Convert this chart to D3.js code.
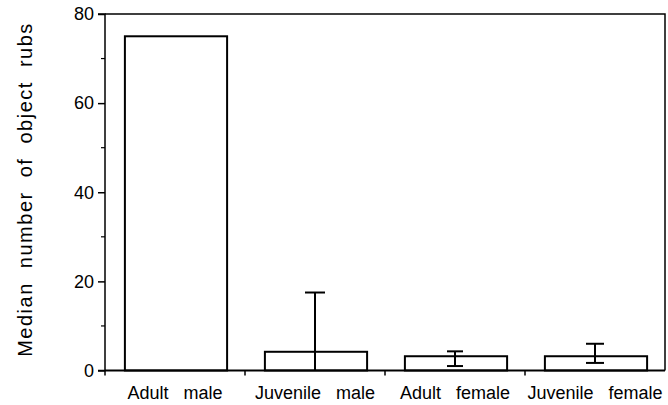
<!DOCTYPE html>
<html><head><meta charset="utf-8">
<script src="https://cdn.jsdelivr.net/npm/d3@7"></script>
<style>
html,body{margin:0;padding:0;background:#fff;}
svg{display:block;font-family:"Liberation Sans",Arial,Helvetica,sans-serif;}
</style></head>
<body>
<svg id="c" width="668" height="405"></svg>
<script>
const categories = ["Adult male", "Juvenile male", "Adult female", "Juvenile female"];
const medians = [75, 4.2, 3.2, 3.2];
const errLow = [null, 0, 1.0, 1.7];
const errHigh = [null, 17.5, 4.3, 6.0];
const yTicks = [0, 20, 40, 60, 80];
const yMinorTicks = [10, 30, 50, 70];
const yTitle = "Median number of object rubs";

(function () {
const svg = d3.select("#c");
const mLeft = 105, mRight = 665, mTop = 14, mBottom = 370.5;

const x = d3.scaleBand().domain(categories).range([mLeft, mRight]).padding(0);
const y = d3.scaleLinear().domain([0, 80]).range([mBottom, mTop]);

const barW = x.bandwidth() * 0.73;
const capW = [0, 20, 16, 18];

// frame (top and right)
svg.append("path")
  .attr("d", `M${mLeft},${mTop}H${mRight}V${mBottom}`)
  .attr("fill", "none").attr("stroke", "#000").attr("stroke-width", 1.5);

// bars
svg.selectAll("rect.bar").data(categories).enter().append("rect")
  .attr("class", "bar")
  .attr("x", d => x(d) + x.bandwidth() / 2 - barW / 2 + 1)
  .attr("y", (d, i) => y(medians[i]))
  .attr("width", barW)
  .attr("height", (d, i) => y(0) - y(medians[i]))
  .attr("fill", "#fff").attr("stroke", "#000").attr("stroke-width", 2);

// error bars
categories.forEach((c, i) => {
  if (errHigh[i] == null) return;
  const cx = x(c) + x.bandwidth() / 2;
  const g = svg.append("g").attr("stroke", "#000").attr("stroke-width", 2);
  g.append("line").attr("x1", cx).attr("x2", cx).attr("y1", y(errLow[i])).attr("y2", y(errHigh[i]));
  g.append("line").attr("x1", cx - capW[i] / 2).attr("x2", cx + capW[i] / 2).attr("y1", y(errHigh[i])).attr("y2", y(errHigh[i]));
  if (errLow[i] > 0) {
    g.append("line").attr("x1", cx - capW[i] / 2).attr("x2", cx + capW[i] / 2).attr("y1", y(errLow[i])).attr("y2", y(errLow[i]));
  }
});

// y axis
const yAxis = d3.axisLeft(y).tickValues(yTicks).tickSize(7).tickPadding(4).tickFormat(d3.format("d"));
const ya = svg.append("g").attr("transform", `translate(${mLeft},0)`).call(yAxis);
ya.attr("font-size", 18).attr("font-family", "Liberation Sans, Arial, sans-serif");
ya.select(".domain").attr("stroke-width", 1.5).attr("d", `M-7,${mTop}H0V${mBottom}H-7`);
ya.selectAll(".tick line").attr("stroke-width", 1.5);
ya.selectAll(".tick text").attr("fill", "#000");
ya.selectAll("line.minor").data(yMinorTicks).enter().append("line")
  .attr("class", "minor").attr("x1", -4).attr("x2", 0)
  .attr("y1", d => y(d)).attr("y2", d => y(d))
  .attr("stroke", "#000").attr("stroke-width", 1.2);

// x axis
const xAxis = d3.axisBottom(x).tickSize(0).tickPadding(16);
const xa = svg.append("g").attr("transform", `translate(0,${mBottom})`).call(xAxis);
xa.attr("font-size", 18).attr("font-family", "Liberation Sans, Arial, sans-serif");
xa.select(".domain").attr("stroke-width", 2).attr("d", `M${mLeft},0H${mRight}`);
xa.selectAll(".tick text").attr("fill", "#000").style("word-spacing", "10px");
const bounds = categories.slice(1).map(c => x(c));
xa.selectAll("line.bt").data([mLeft].concat(bounds)).enter().append("line")
  .attr("class", "bt").attr("x1", d => d).attr("x2", d => d)
  .attr("y1", 0).attr("y2", 5).attr("stroke", "#000").attr("stroke-width", 1.5);

// y title
svg.append("text")
  .attr("transform", `translate(32,189.5) rotate(-90)`)
  .attr("text-anchor", "middle")
  .attr("font-size", 20)
  .style("letter-spacing", "1.5px")
  .style("word-spacing", "7px")
  .attr("fill", "#000")
  .text(yTitle);
})();
</script>
</body></html>
